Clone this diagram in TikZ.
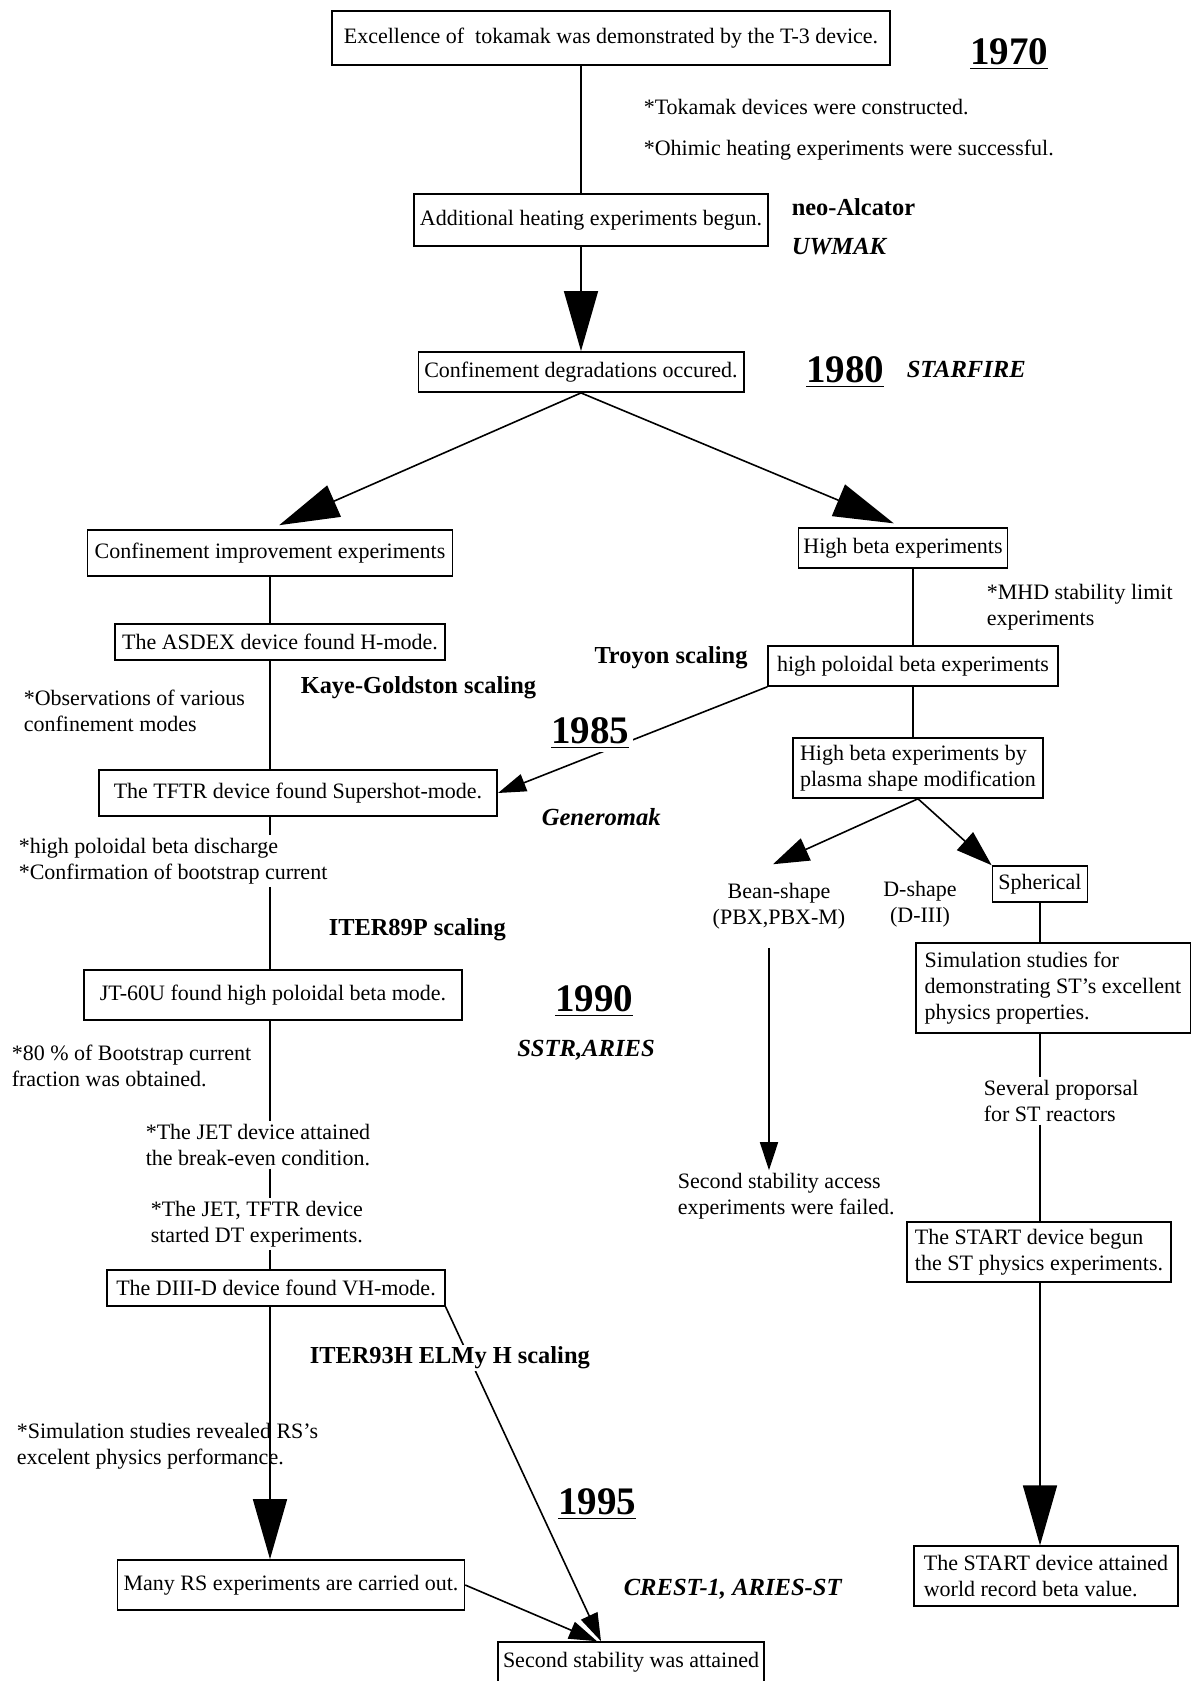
\documentclass[tikz,border=0pt]{standalone}
\usepackage{fontspec}
\setmainfont{Liberation Serif}
\usetikzlibrary{arrows.meta}

\begin{document}
\begin{tikzpicture}[x=0.5pt,y=-0.5pt,line width=0.8pt,
  box/.style={draw,inner xsep=3.5pt,inner ysep=5pt,align=left,font=\fontsize{11}{13}\selectfont},
  note/.style={anchor=west,align=left,inner sep=1pt,font=\fontsize{11}{13}\selectfont},
  scaling/.style={anchor=west,inner sep=1pt,font=\fontsize{12.2}{14}\selectfont\bfseries},
  machine/.style={scaling,font=\fontsize{12.3}{14}\selectfont\bfseries\itshape},
  year/.style={fill=white,inner sep=2pt,font=\fontsize{19.5}{22}\selectfont\bfseries},
  bigtip/.style={-{Triangle[length=30pt,width=17pt]}},
  midtip/.style={-{Triangle[length=18pt,width=12pt]}},
  smalltip/.style={-{Triangle[length=14pt,width=9pt]}}]
  \useasboundingbox (0,0) rectangle (1191,1681);

  % boxes
  \node[box,minimum height=27pt,inner xsep=6pt] (t3) at (611,38) {Excellence of~ tokamak was demonstrated by the T-3 device.};
  \node[box,minimum height=26pt,inner xsep=3pt] (heat) at (591,220) {Additional heating experiments begun.};
  \node[box,inner xsep=3pt] (degr) at (581,372) {Confinement degradations occured.};
  \node[box,minimum height=23pt] (improv) at (270,553) {Confinement improvement experiments};
  \node[box,inner xsep=2.5pt] (hibeta) at (903,548) {High beta experiments};
  \node[box] (asdex) at (280,642) {The ASDEX device found H-mode.};
  \node[box,inner xsep=4.5pt] (pol) at (913,666) {high poloidal beta experiments};
  \node[box,minimum height=23pt,inner xsep=7.5pt] (tftr) at (298,793) {The TFTR device found Supershot-mode.};
  \node[box,inner ysep=3.5pt] (shape) at (918,768) {High beta experiments by\\plasma shape modification};
  \node[box,inner xsep=3pt,inner ysep=4pt] (sph) at (1040,884) {Spherical};
  \node[box,inner xsep=4.5pt,inner ysep=4.5pt] (sim) at (1053,988) {Simulation studies for\\demonstrating ST’s excellent\\physics properties.};
  \node[box,minimum height=25pt,inner xsep=8pt] (jt60) at (273,995) {JT-60U found high poloidal beta mode.};
  \node[box,inner xsep=4.5pt] (diiid) at (276,1288) {The DIII-D device found VH-mode.};
  \node[box,inner xsep=4pt,inner ysep=3.5pt] (startb) at (1039,1252) {The START device begun\\the ST physics experiments.};
  \node[box,minimum height=25pt,inner xsep=3pt] (manyrs) at (291,1585) {Many RS experiments are carried out.};
  \node[box,inner xsep=5pt,inner ysep=4.5pt] (starta) at (1046,1576) {The START device attained\\world record beta value.};
  \node[box,inner xsep=2.5pt] (second) at (631,1662) {Second stability was attained};

  % notes
  \node[note] (tok) at (641,107) {*Tokamak devices were constructed.};
  \node[note] (ohm) at (641,150) {*Ohimic heating experiments were successful.};
  \node[note] (mhd) at (984,607) {*MHD stability limit\\experiments};
  \node[note] (obs) at (21,711) {*Observations of various\\confinement modes};
  \node[note] (bs) at (16,861) {*high poloidal beta discharge\\*Confirmation of bootstrap current};
  \node[note] (frac) at (9,1066) {*80 \% of Bootstrap current\\fraction was obtained.};
  \node[note] (jet) at (143,1145) {*The JET device attained\\the break-even condition.};
  \node[note] (dt) at (148,1224) {*The JET, TFTR device\\started DT experiments.};
  \node[note] (rssim) at (14,1446) {*Simulation studies revealed RS’s\\excelent physics performance.};
  \node[note] (prop) at (981,1101) {Several proporsal\\for ST reactors};
  \node[note] (fail) at (675,1196) {Second stability access\\experiments were failed.};
  \node[note,anchor=center,align=center] (bean) at (779,906) {Bean-shape\\(PBX,PBX-M)};
  \node[note,anchor=center,align=center] (dsh) at (920,904) {D-shape\\(D-III)};
  \coordinate (beanx) at (769,0);

  % connectors
  \path
    (t3.south -| degr.north) edge (heat.north -| degr.north)
    (heat.south -| degr.north) edge[bigtip] (degr.north)
    (degr.south) edge[bigtip,shorten >=5pt] (improv.north)
    (degr.south) edge[bigtip,shorten >=5pt] (hibeta.north)
    (improv.south) edge (improv.south |- asdex.north)
    (improv.south |- asdex.south) edge (improv.south |- tftr.north)
    (improv.south |- tftr.south) edge (improv.south |- bs.north)
    (improv.south |- bs.south) edge (improv.south |- jt60.north)
    (improv.south |- jt60.south) edge (improv.south |- jet.north)
    (improv.south |- jet.south) edge (improv.south |- dt.north)
    (improv.south |- dt.south) edge (improv.south |- diiid.north)
    (improv.south |- diiid.south) edge[bigtip] (improv.south |- manyrs.north)
    (pol.north |- hibeta.south) edge (pol.north)
    (pol.south) edge (pol.south |- shape.north)
    (pol.south west) edge[smalltip] (tftr.east)
    (shape.south) edge[midtip] ([shift={(-3pt,8pt)}]bean.north)
    (shape.south) edge[midtip] (sph.north west)
    (sph.south) edge (sph.south |- sim.north)
    (sph.south |- sim.south) edge (sph.south |- prop.north)
    (sph.south |- prop.south) edge (sph.south |- startb.north)
    (sph.south |- startb.south) edge[bigtip] (sph.south |- starta.north)
    ([yshift=-8pt]bean.south -| beanx) edge[smalltip] (fail.north -| beanx)
    (manyrs.east) edge[smalltip] ([xshift=-17pt]second.north)
    (diiid.south east) edge[smalltip] ([xshift=-15pt]second.north);

  % scalings and reactor designs
  \node[scaling] (alcator) at (789,207) {neo-Alcator};
  \node[machine] (uwmak) at (789,247) {UWMAK};
  \node[machine] (starfire) at (904,369) {STARFIRE};
  \node[scaling,anchor=center] (troyon) at (671,658) {Troyon scaling};
  \node[scaling] (kaye) at (298,688) {Kaye-Goldston scaling};
  \node[machine] (genero) at (539,817) {Generomak};
  \node[scaling] (iter89) at (326,930) {ITER89P scaling};
  \node[machine,anchor=center] (sstr) at (586,1050) {SSTR,ARIES};
  \node[scaling,fill=white] (iter93) at (307,1358) {ITER93H ELMy H scaling};
  \node[machine] (crest) at (621,1589) {CREST-1, ARIES-ST};

  % years
  \node[year] (y70) at (1009,54) {\underline{1970}};
  \node[year] (y80) at (845,372) {\underline{1980}};
  \node[year] (y85) at (590,733) {\underline{1985}};
  \node[year] (y90) at (594,1001) {\underline{1990}};
  \node[year] (y95) at (597,1504) {\underline{1995}};
\end{tikzpicture}
\end{document}
